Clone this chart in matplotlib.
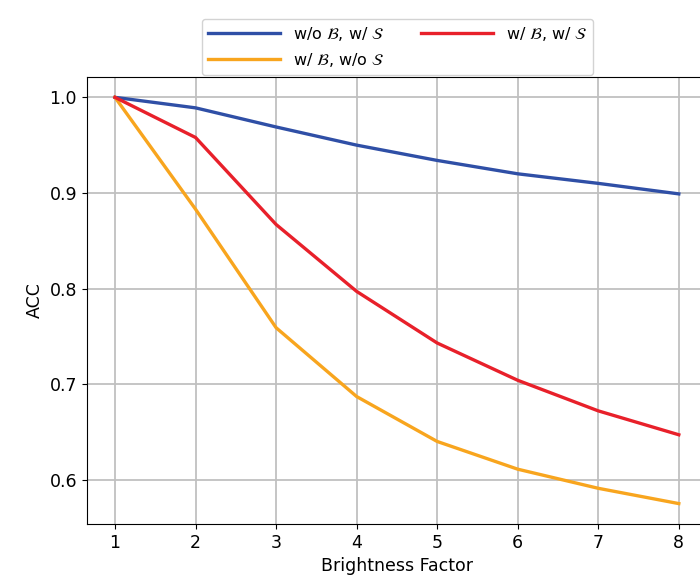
import matplotlib
matplotlib.use('Agg')
import matplotlib.pyplot as plt

factor = [1, 2, 3, 4, 5, 6, 7, 8]
acc_no_b_s = [1.0, 0.989, 0.969, 0.950, 0.934, 0.920, 0.910, 0.899]
acc_b_s = [1.0, 0.958, 0.867, 0.797, 0.743, 0.704, 0.672, 0.647]
acc_b_no_s = [1.0, 0.883, 0.759, 0.687, 0.640, 0.611, 0.591, 0.575]

plt.rcParams['font.size'] = 12.5

fig = plt.figure(figsize=(7, 5.88), dpi=100)
ax = fig.add_axes([0.124, 0.109, 0.886, 0.760])

l1, = ax.plot(factor, acc_no_b_s, color='#2f4fa6', lw=2.4, label=r'w/o $\mathcal{B}$, w/ $\mathcal{S}$')
l2, = ax.plot(factor, acc_b_no_s, color='#f8a51e', lw=2.4, label=r'w/ $\mathcal{B}$, w/o $\mathcal{S}$')
l3, = ax.plot(factor, acc_b_s, color='#e8202a', lw=2.4, label=r'w/ $\mathcal{B}$, w/ $\mathcal{S}$')

ax.grid(True, color='#c0c0c0', lw=1.3)
ax.set_axisbelow(True)
ax.set_xticks(factor)
ax.set_yticks([0.6, 0.7, 0.8, 0.9, 1.0])
ax.set_xlabel('Brightness Factor')
ax.set_ylabel('ACC')

leg = fig.legend(handles=[l1, l2, l3], ncol=2, loc='upper center',
                 bbox_to_anchor=(0.568, 0.982), fontsize=11.5, columnspacing=2.3,
                 handlelength=4.5)
leg.get_frame().set_edgecolor('#c8c8c8')

fig.savefig('out.png')
